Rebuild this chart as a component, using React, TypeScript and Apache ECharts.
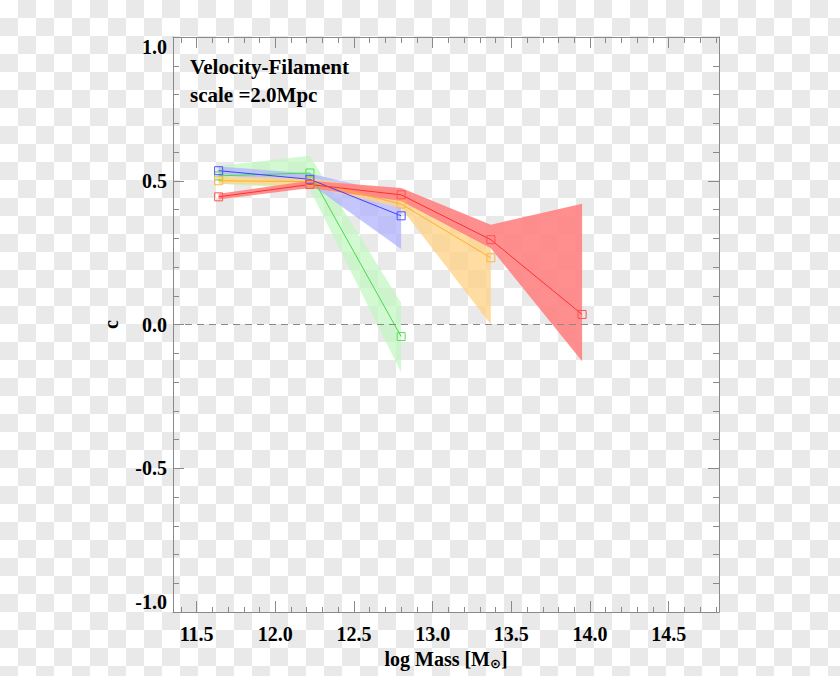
import React, { useEffect, useRef } from 'react';
import * as echarts from 'echarts';

// ---- data ----
const massBins = [11.64, 12.22, 12.8, 13.37, 13.95];

const blueC = [0.535, 0.505, 0.378];
const blueLo = [0.52, 0.49, 0.263];
const blueHi = [0.55, 0.525, 0.45];

const greenC = [0.517, 0.527, -0.042];
const greenLo = [0.49, 0.47, -0.167];
const greenHi = [0.552, 0.587, 0.075];

const orangeC = [0.5, 0.497, 0.419, 0.232];
const orangeLo = [0.49, 0.48, 0.405, 0.0];
const orangeHi = [0.515, 0.51, 0.46, 0.27];

const redC = [0.444, 0.487, 0.451, 0.295, 0.035];
const redLo = [0.435, 0.475, 0.43, 0.265, -0.128];
const redHi = [0.455, 0.5, 0.475, 0.347, 0.42];

const xMajorTicks = [11.5, 12.0, 12.5, 13.0, 13.5, 14.0, 14.5];
const xMinorTicks = [
  11.4, 11.6, 11.7, 11.8, 11.9, 12.1, 12.2, 12.3, 12.4, 12.6, 12.7, 12.8, 12.9,
  13.1, 13.2, 13.3, 13.4, 13.6, 13.7, 13.8, 13.9, 14.1, 14.2, 14.3, 14.4, 14.6,
  14.7, 14.8,
];
const legendLines = ['Velocity-Filament', 'scale =2.0Mpc'];
const xTitle = 'log Mass [M';
const yTitle = 'c';

const X_MIN = 11.35;
const X_MAX = 14.82;

const FONT = "'Liberation Serif', 'Times New Roman', Times, serif";
const AXIS_COLOR = '#8a8a8a';

const GRID = { left: 173, top: 37, width: 546, height: 575 };

function bandSeries(lo: number[], hi: number[], fill: string, z: number) {
  return {
    type: 'custom',
    xAxisIndex: 0,
    yAxisIndex: 0,
    silent: true,
    z,
    data: lo.map((l, i) => [massBins[i], l, hi[i]]),
    encode: { x: 0, y: [1, 2] },
    renderItem: (params: any, api: any) => {
      if (params.dataIndex !== 0) return { type: 'group', children: [] };
      const upper = hi.map((h, i) => api.coord([massBins[i], h]));
      const lower = lo.map((l, i) => api.coord([massBins[i], l])).reverse();
      return {
        type: 'polygon',
        shape: { points: upper.concat(lower) },
        style: { fill, stroke: 'none' },
      };
    },
  };
}

function lineSeries(vals: number[], color: string, symColor: string, z: number) {
  return {
    type: 'line',
    xAxisIndex: 0,
    yAxisIndex: 0,
    silent: true,
    z,
    data: vals.map((v, i) => [massBins[i], v]),
    symbol: 'rect',
    symbolSize: 8,
    showSymbol: true,
    color,
    lineStyle: { color, width: 1 },
    itemStyle: { color: 'rgba(0,0,0,0)', borderColor: symColor, borderWidth: 1 },
  };
}

export default function App() {
  const ref = useRef<HTMLDivElement>(null);

  useEffect(() => {
    if (!ref.current) return;
    const chart = echarts.init(ref.current, undefined, { renderer: 'svg' });

    const hiddenY = (gridIndex: number) => ({
      type: 'value',
      gridIndex,
      min: -1,
      max: 1,
      show: false,
    });

    const xBase = (gridIndex: number, position: string) => ({
      type: 'value',
      gridIndex,
      position,
      min: X_MIN,
      max: X_MAX,
      splitLine: { show: false },
    });

    const option: any = {
      animation: false,
      grid: [{ ...GRID }, { ...GRID }, { ...GRID }, { ...GRID }],
      xAxis: [
        {
          ...xBase(0, 'bottom'),
          axisLine: { show: true, onZero: false, lineStyle: { color: AXIS_COLOR, width: 1 } },
          axisTick: {
            show: true,
            inside: true,
            length: 11,
            customValues: xMajorTicks,
            lineStyle: { color: AXIS_COLOR, width: 1 },
          },
          axisLabel: {
            show: true,
            customValues: xMajorTicks,
            margin: 12,
            formatter: (v: number) => v.toFixed(1),
            color: '#000',
            fontFamily: FONT,
            fontWeight: 'bold',
            fontSize: 20,
          },
          name: xTitle + '{sub|\u2299}]',
          nameLocation: 'middle',
          nameGap: 29,
          nameTextStyle: {
            color: '#000',
            fontFamily: FONT,
            fontWeight: 'bold',
            fontSize: 20,
            rich: {
              sub: {
                fontFamily: "'DejaVu Sans', sans-serif",
                fontSize: 13,
                verticalAlign: 'bottom',
                padding: [9, 0, 0, 0],
                color: '#000',
              },
            },
          },
        },
        {
          ...xBase(1, 'top'),
          axisLine: { show: true, onZero: false, lineStyle: { color: AXIS_COLOR, width: 1 } },
          axisTick: {
            show: true,
            inside: true,
            length: 11,
            customValues: xMajorTicks,
            lineStyle: { color: AXIS_COLOR, width: 1 },
          },
          axisLabel: { show: false },
        },
        {
          ...xBase(2, 'bottom'),
          axisLine: { show: false, onZero: false },
          axisTick: {
            show: true,
            inside: true,
            length: 5,
            customValues: xMinorTicks,
            lineStyle: { color: AXIS_COLOR, width: 1 },
          },
          axisLabel: { show: false },
        },
        {
          ...xBase(3, 'top'),
          axisLine: { show: false, onZero: false },
          axisTick: {
            show: true,
            inside: true,
            length: 6,
            customValues: xMinorTicks,
            lineStyle: { color: AXIS_COLOR, width: 1 },
          },
          axisLabel: { show: false },
        },
      ],
      yAxis: [
        {
          type: 'value',
          gridIndex: 0,
          position: 'left',
          min: -1,
          max: 1,
          interval: 0.5,
          splitLine: { show: false },
          axisLine: { show: true, onZero: false, lineStyle: { color: AXIS_COLOR, width: 1 } },
          axisTick: { show: true, inside: true, length: 11, lineStyle: { color: AXIS_COLOR } },
          minorTick: { show: true, splitNumber: 5, length: 6, lineStyle: { color: AXIS_COLOR } },
          axisLabel: {
            show: true,
            margin: 6,
            formatter: (v: number) => v.toFixed(1),
            color: '#000',
            fontFamily: FONT,
            fontWeight: 'bold',
            fontSize: 20,
            verticalAlignMaxLabel: 'top',
            verticalAlignMinLabel: 'bottom',
          },
          name: yTitle,
          nameLocation: 'middle',
          nameGap: 52,
          nameTextStyle: {
            color: '#000',
            fontFamily: FONT,
            fontWeight: 'bold',
            fontSize: 20,
          },
        },
        {
          type: 'value',
          gridIndex: 1,
          position: 'right',
          min: -1,
          max: 1,
          interval: 0.5,
          splitLine: { show: false },
          axisLine: { show: true, onZero: false, lineStyle: { color: AXIS_COLOR, width: 1 } },
          axisTick: { show: true, inside: true, length: 11, lineStyle: { color: AXIS_COLOR } },
          minorTick: { show: true, splitNumber: 5, length: 6, lineStyle: { color: AXIS_COLOR } },
          axisLabel: { show: false },
        },
        hiddenY(2),
        hiddenY(3),
      ],
      graphic: legendLines.map((t, i) => ({
        type: 'text',
        left: 190,
        top: 56 + i * 28,
        silent: true,
        style: {
          text: t,
          fill: '#000',
          font: `bold 21px ${FONT}`,
        },
      })),
      series: [
        {
          type: 'line',
          xAxisIndex: 0,
          yAxisIndex: 0,
          silent: true,
          z: 0,
          data: [],
          markLine: {
            silent: true,
            symbol: ['none', 'none'],
            label: { show: false },
            lineStyle: { color: '#8a8a8a', type: [7, 5], width: 1 },
            data: [{ yAxis: 0 }],
          },
        },
        bandSeries(greenLo, greenHi, 'rgba(192,247,192,0.7)', 1),
        bandSeries(blueLo, blueHi, 'rgba(176,176,255,0.72)', 1),
        bandSeries(orangeLo, orangeHi, 'rgba(255,211,136,0.78)', 1),
        bandSeries(redLo, redHi, 'rgba(255,128,128,0.88)', 1),
        lineSeries(greenC, '#44dd44', '#55dd55', 3),
        lineSeries(orangeC, '#ffb020', '#ffb840', 3),
        lineSeries(blueC, '#4040ff', '#5050ff', 3),
        lineSeries(redC, '#ff3030', '#ff5050', 3),
      ],
    };

    chart.setOption(option);
    return () => chart.dispose();
  }, []);

  return (
    <div
      ref={ref}
      style={{
        position: 'absolute',
        left: 0,
        top: 0,
        width: 840,
        height: 676,
        backgroundImage: 'repeating-conic-gradient(#e9e9e9 0 25%, #ffffff 0 50%)',
        backgroundSize: '36px 36px',
      }}
    />
  );
}
